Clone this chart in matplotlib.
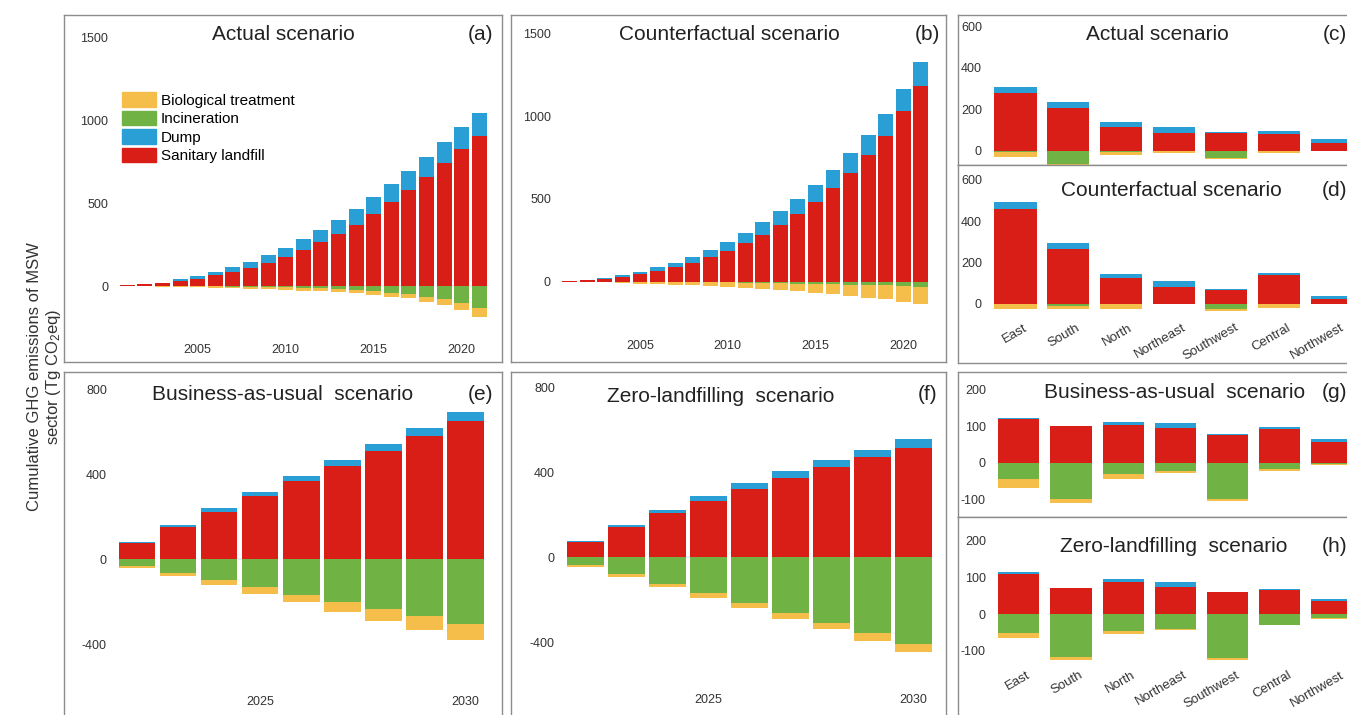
import numpy as np
import matplotlib
matplotlib.use("Agg")
import matplotlib.pyplot as plt
from matplotlib.patches import Patch
from matplotlib.transforms import ScaledTranslation

plt.rcParams['font.family'] = ['Liberation Sans', 'DejaVu Sans']
plt.rcParams['mathtext.fontset'] = 'custom'
plt.rcParams['mathtext.rm'] = 'Liberation Sans'
plt.rcParams['mathtext.default'] = 'regular'
plt.rcParams['axes.unicode_minus'] = False

RED = '#d91e18'
BLUE = '#2a9fd6'
GREEN = '#70b244'
YELLOW = '#f5be4b'
FRAME = '#8c8c8c'
TXT = '#222222'

# historical period, cumulative Tg CO2eq
years_hist = list(range(2001, 2022))
actual_landfill = [6, 10, 18, 30, 42, 65, 85, 111, 141, 177, 220, 264, 315, 371, 435, 506, 579, 659, 742, 827, 907]
actual_dump = [0, 2, 2, 10, 18, 20, 28, 36, 46, 55, 62, 75, 84, 95, 101, 109, 117, 123, 131, 135, 141]
actual_incin = [0.1, 0.3, 0.5, 1, 1.5, 2, 3, 4, 6, 8, 10, 14, 20, 24, 32, 40, 48, 65, 81, 105, 135]
actual_bio = [0.5, 1.5, 3, 4, 6.5, 8, 10, 12, 14, 16, 18, 18, 18, 20, 20, 25, 27, 30, 34, 40, 50]

counter_landfill = [4, 8, 17, 30, 44, 65, 87, 111, 147, 185, 232, 282, 341, 407, 482, 565, 659, 762, 881, 1028, 1179]
counter_dump = [0, 2, 3, 8, 14, 22, 28, 40, 47, 55, 64, 77, 86, 93, 101, 108, 115, 123, 131, 137, 146]
counter_incin = [0.1, 0.2, 0.5, 1, 1.5, 2, 2.5, 3, 4, 5, 6, 8, 10, 12, 14, 16, 18, 20, 22, 26, 30]
counter_bio = [0.9, 1.8, 4.5, 7, 10.5, 13, 16.5, 19, 22, 27, 32, 36, 40, 46, 53, 61, 69, 77, 85, 95, 103]

# projections
years_proj = list(range(2022, 2031))
bau_landfill = [74, 149, 221, 295, 365, 438, 508, 580, 651]
bau_dump = [8, 11, 21, 20, 27, 29, 33, 38, 41]
bau_incin = [33, 66, 99, 130, 168, 201, 237, 270, 307]
bau_bio = [8, 16, 23, 33, 36, 47, 55, 66, 73]

zero_landfill = [71, 142, 208, 266, 323, 375, 425, 472, 515]
zero_dump = [6, 11, 17, 22, 27, 30, 33, 35, 42]
zero_incin = [38, 79, 124, 168, 214, 261, 309, 359, 408]
zero_bio = [9, 15, 18, 22, 24, 29, 31, 36, 39]

# regional breakdown
regions = ['East', 'South', 'North', 'Northeast', 'Southwest', 'Central', 'Northwest']
reg_actual_landfill = [277, 205, 116, 84, 87, 81, 39]
reg_actual_dump = [33, 29, 23, 32, 3, 13, 16]
reg_actual_incin = [5, 64, 4, 2, 37, 3, 1]
reg_actual_bio = [24, 6, 16, 7, 1, 7, 1]

reg_counter_landfill = [460, 265, 125, 80, 66, 138, 24]
reg_counter_dump = [33, 31, 20, 31, 8, 12, 15]
reg_counter_incin = [2, 8, 2, 1, 24, 2, 0]
reg_counter_bio = [22, 16, 22, 1, 9, 19, 0]

reg_bau_landfill = [119, 101, 104, 95, 76, 94, 58]
reg_bau_dump = [5, 0, 8, 15, 2, 3, 8]
reg_bau_incin = [46, 101, 32, 23, 101, 16, 4]
reg_bau_bio = [25, 9, 14, 4, 5, 7, 1]

reg_zero_landfill = [110, 71, 88, 75, 60, 65, 35]
reg_zero_dump = [5, 0, 9, 14, 0, 5, 7]
reg_zero_incin = [52, 116, 47, 41, 120, 29, 11]
reg_zero_bio = [13, 8, 8, 2, 5, 1, 1]

W, H = 1347, 715
fig = plt.figure(figsize=(W / 100, H / 100), dpi=100)


def px(v):
    return v * 0.72  # pixels -> points at 100 dpi


def panel(x0, y0, x1, y1):
    ax = fig.add_axes([x0 / W, 1 - y1 / H, (x1 - x0) / W, (y1 - y0) / H])
    for s in ax.spines.values():
        s.set_color(FRAME)
        s.set_linewidth(1.0)
    ax.tick_params(length=0, labelsize=9, labelcolor='#333333')
    return ax


def stack(ax, x, landfill, dump, incin, bio, width):
    landfill = np.asarray(landfill, float)
    neg = -np.asarray(incin, float)
    ax.bar(x, landfill, width, color=RED, linewidth=0)
    ax.bar(x, dump, width, bottom=landfill, color=BLUE, linewidth=0)
    ax.bar(x, neg, width, color=GREEN, linewidth=0)
    ax.bar(x, -np.asarray(bio, float), width, bottom=neg, color=YELLOW, linewidth=0)


def label(x, y, s, size=15, ha='center'):
    fig.text(x / W, 1 - y / H, s, fontsize=size, ha=ha, va='center', color=TXT)


# (a) actual, 2001-2021
ax_a = panel(64, 15, 502, 362)
stack(ax_a, years_hist, actual_landfill, actual_dump, actual_incin, actual_bio, 0.85)
ax_a.set_xlim(1997.40, 2022.29)
ax_a.set_ylim(-459, 1638)
ax_a.set_yticks([0, 500, 1000, 1500])
ax_a.set_xticks([2005, 2010, 2015, 2020])
ax_a.tick_params(axis='y', pad=-px(44))
ax_a.tick_params(axis='x', pad=-px(18))
label(283, 35, 'Actual scenario')
label(493, 35, '(a)', ha='right')
handles = [Patch(color=YELLOW), Patch(color=GREEN), Patch(color=BLUE), Patch(color=RED)]
names = ['Biological treatment', 'Incineration', 'Dump', 'Sanitary landfill']
ax_a.legend(handles, names, loc='upper left', bbox_to_anchor=(121.7 / W, 1 - 92 / H),
            bbox_transform=fig.transFigure, frameon=False, fontsize=11,
            handlelength=2.25, handleheight=1.1, labelspacing=0.2,
            handletextpad=0.3, borderpad=0, borderaxespad=0)

# (b) counterfactual, 2001-2021
ax_b = panel(511, 15, 946, 362)
stack(ax_b, years_hist, counter_landfill, counter_dump, counter_incin, counter_bio, 0.85)
ax_b.set_xlim(1997.65, 2022.44)
ax_b.set_ylim(-485, 1610)
ax_b.set_yticks([0, 500, 1000, 1500])
ax_b.set_xticks([2005, 2010, 2015, 2020])
ax_b.tick_params(axis='y', pad=-px(40))
ax_b.tick_params(axis='x', pad=-px(22))
label(729, 35, 'Counterfactual scenario')
label(940, 35, '(b)', ha='right')

# (c) actual by region
ax_c = panel(958, 15, 1355, 165)
stack(ax_c, range(len(regions)), reg_actual_landfill, reg_actual_dump,
      reg_actual_incin, reg_actual_bio, 0.8)
ax_c.set_xlim(-1.09, 6.44)
ax_c.set_ylim(-69, 656)
ax_c.set_yticks([0, 200, 400, 600])
ax_c.set_xticks([])
ax_c.tick_params(axis='y', pad=-px(24))
label(1157, 35, 'Actual scenario')
label(1347, 35, '(c)', ha='right')

# (d) counterfactual by region
ax_d = panel(958, 165, 1355, 362.7)
stack(ax_d, range(len(regions)), reg_counter_landfill, reg_counter_dump,
      reg_counter_incin, reg_counter_bio, 0.8)
ax_d.set_xlim(-1.09, 6.44)
ax_d.set_ylim(-284, 672)
ax_d.set_yticks([0, 200, 400, 600])
ax_d.tick_params(axis='y', pad=-px(24))
label(1171, 190, 'Counterfactual scenario')
label(1347, 190, '(d)', ha='right')

# (e) business-as-usual, 2022-2030
ax_e = panel(64, 372, 502, 725)
stack(ax_e, years_proj, bau_landfill, bau_dump, bau_incin, bau_bio, 0.9)
ax_e.set_xlim(2020.22, 2030.9)
ax_e.set_ylim(-781, 880)
ax_e.set_yticks([-400, 0, 400, 800])
ax_e.set_xticks([2025, 2030])
ax_e.tick_params(axis='y', pad=-px(43))
ax_e.tick_params(axis='x', pad=-px(29))
label(282.5, 395, 'Business-as-usual  scenario')
label(493, 394, '(e)', ha='right')

# (f) zero-landfilling, 2022-2030
ax_f = panel(511, 372, 946, 725)
stack(ax_f, years_proj, zero_landfill, zero_dump, zero_incin, zero_bio, 0.9)
ax_f.set_xlim(2020.19, 2030.8)
ax_f.set_ylim(-791, 874)
ax_f.set_yticks([-400, 0, 400, 800])
ax_f.set_xticks([2025, 2030])
ax_f.tick_params(axis='y', pad=-px(44))
ax_f.tick_params(axis='x', pad=-px(31))
label(721, 396, 'Zero-landfilling  scenario')
label(937, 394, '(f)', ha='right')

# (g) business-as-usual by region
ax_g = panel(958, 372, 1355, 516.7)
stack(ax_g, range(len(regions)), reg_bau_landfill, reg_bau_dump,
      reg_bau_incin, reg_bau_bio, 0.79)
ax_g.set_xlim(-1.165, 6.44)
ax_g.set_ylim(-148.6, 249.5)
ax_g.set_yticks([-100, 0, 100, 200])
ax_g.set_xticks([])
ax_g.tick_params(axis='y', pad=-px(28))
label(1174.5, 392, 'Business-as-usual  scenario')
label(1347, 392, '(g)', ha='right')

# (h) zero-landfilling by region
ax_h = panel(958, 516.7, 1355, 725)
stack(ax_h, range(len(regions)), reg_zero_landfill, reg_zero_dump,
      reg_zero_incin, reg_zero_bio, 0.79)
ax_h.set_xlim(-1.165, 6.44)
ax_h.set_ylim(-302, 266)
ax_h.set_yticks([-100, 0, 100, 200])
ax_h.tick_params(axis='y', pad=-px(28))
label(1174, 547, 'Zero-landfilling  scenario')
label(1347, 547, '(h)', ha='right')

# rotated region names sit inside the frame
for ax, pad in ((ax_d, 41), (ax_h, 56)):
    ax.set_xticks(range(len(regions)), regions, rotation=30, ha='right',
                  rotation_mode='anchor', fontsize=9.5)
    ax.tick_params(axis='x', pad=-px(pad))
    shift = ScaledTranslation(8 / 100, 0, fig.dpi_scale_trans)
    for t in ax.get_xticklabels():
        t.set_transform(t.get_transform() + shift)

fig.text(45 / W, 1 - 377 / H,
         'Cumulative GHG emissions of MSW\nsector (Tg CO$_2$eq)',
         rotation=90, ha='center', va='center', fontsize=12,
         color='#333333', linespacing=1.1)

fig.savefig('out.png', dpi=100)
